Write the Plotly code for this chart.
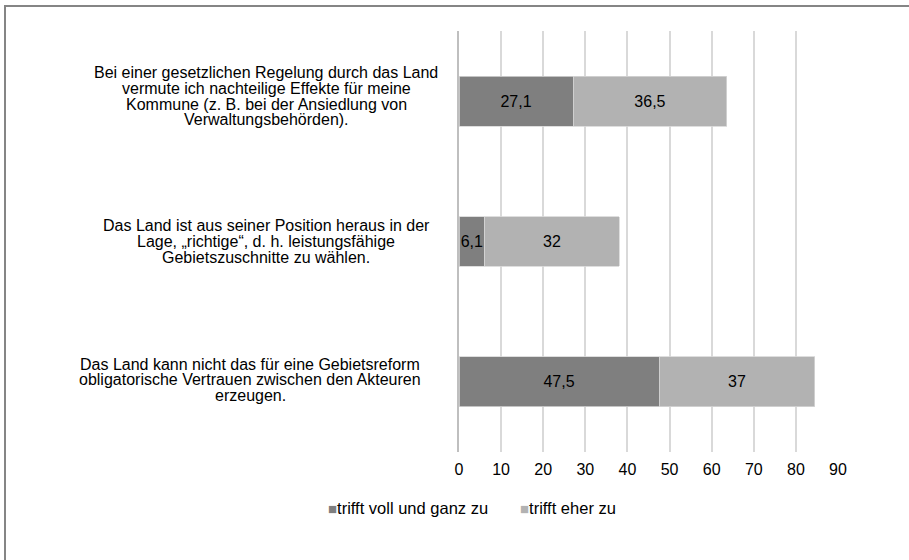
import plotly.graph_objects as go

# ---- data ----
category_lines = [
    ["Bei einer gesetzlichen Regelung durch das Land",
     "vermute ich nachteilige Effekte für meine",
     "Kommune (z. B. bei der Ansiedlung von",
     "Verwaltungsbehörden)."],
    ["Das Land ist aus seiner Position heraus in der",
     "Lage, „richtige“, d. h. leistungsfähige",
     "Gebietszuschnitte zu wählen."],
    ["Das Land kann nicht das für eine Gebietsreform",
     "obligatorische Vertrauen zwischen den Akteuren",
     "erzeugen."],
]
categories = [" ".join(l) for l in category_lines]
series_names = ["trifft voll und ganz zu", "trifft eher zu"]
voll = [27.1, 6.1, 47.5]
eher = [36.5, 32, 37]
x_ticks = [0, 10, 20, 30, 40, 50, 60, 70, 80, 90]

# ---- style ----
FONT = "Liberation Sans, Arial, sans-serif"
FS = 16
TXT = "#000000"
COL_DARK = "#7f7f7f"
COL_LIGHT = "#b2b2b2"

W, H = 909, 560
PL, PR, PT, PB = 459, 838, 31, 452  # plot area in pixels


def px_x(px):
    return (px - PL) / (PR - PL)


def px_y(py):
    return (PB - py) / (PB - PT)


def fmt(v):
    return f"{v:g}".replace(".", ",")


fig = go.Figure()
for name, vals, col in [(series_names[0], voll, COL_DARK), (series_names[1], eher, COL_LIGHT)]:
    fig.add_trace(go.Bar(
        y=categories, x=vals, name=name, orientation="h",
        marker=dict(color=col, line=dict(color="#d6d6d6", width=0.8)),
        text=[fmt(v) for v in vals], textposition="inside", textangle=0,
        insidetextanchor="middle", constraintext="none",
        textfont=dict(family=FONT, size=FS, color=TXT),
        showlegend=False, hoverinfo="x+name", cliponaxis=False,
    ))

annotations = []
block_centers = [266, 266, 250]
block_shift = [5, 0, 2]
for cat, lines, cx, sh in zip(categories, category_lines, block_centers, block_shift):
    n = len(lines)
    for i, line in enumerate(lines):
        annotations.append(dict(
            x=px_x(cx), xref="paper", y=cat, yref="y",
            yshift=-(i - (n - 1) / 2) * 15.8 + sh,
            text=line, showarrow=False, xanchor="center", yanchor="middle",
            font=dict(family=FONT, size=FS, color=TXT),
        ))

# legend drawn as text items
legend_x = [326, 518]
for name, col, lx in zip(series_names, [COL_DARK, COL_LIGHT], legend_x):
    annotations.append(dict(
        x=px_x(lx), xref="paper", y=px_y(508), yref="paper",
        text=f'<span style="color:{col};font-size:15px">■</span>{name}',
        showarrow=False, xanchor="left", yanchor="middle",
        font=dict(family=FONT, size=16.5, color=TXT),
    ))

fig.update_layout(
    width=W, height=H,
    margin=dict(l=PL, r=W - PR, t=PT, b=H - PB, pad=0),
    paper_bgcolor="white", plot_bgcolor="white",
    barmode="stack", bargap=0.644,
    uniformtext=dict(minsize=FS, mode="show"),
    font=dict(family=FONT, size=FS, color=TXT),
    annotations=annotations,
    shapes=[dict(type="rect", xref="paper", yref="paper",
                 x0=px_x(5), x1=px_x(930), y0=px_y(6), y1=px_y(590),
                 line=dict(color="#858585", width=2), layer="above")],
)
fig.update_xaxes(
    range=[0, 90], tickvals=x_ticks, ticktext=[str(t) for t in x_ticks],
    showgrid=True, gridcolor="#d9d9d9", gridwidth=1.5,
    zeroline=False, showline=False, ticks="", ticklabelstandoff=6,
    tickfont=dict(family=FONT, size=FS, color=TXT),
    fixedrange=True,
)
fig.update_yaxes(
    categoryorder="array", categoryarray=categories, autorange="reversed",
    showticklabels=False, showgrid=False, zeroline=False,
    showline=True, linecolor="#bfbfbf", linewidth=2, ticks="",
    fixedrange=True,
)

fig.write_html(
    "out.html",
    config={"displayModeBar": False},
    post_script="document.body.style.margin='0px';document.body.style.overflow='hidden';",
)
